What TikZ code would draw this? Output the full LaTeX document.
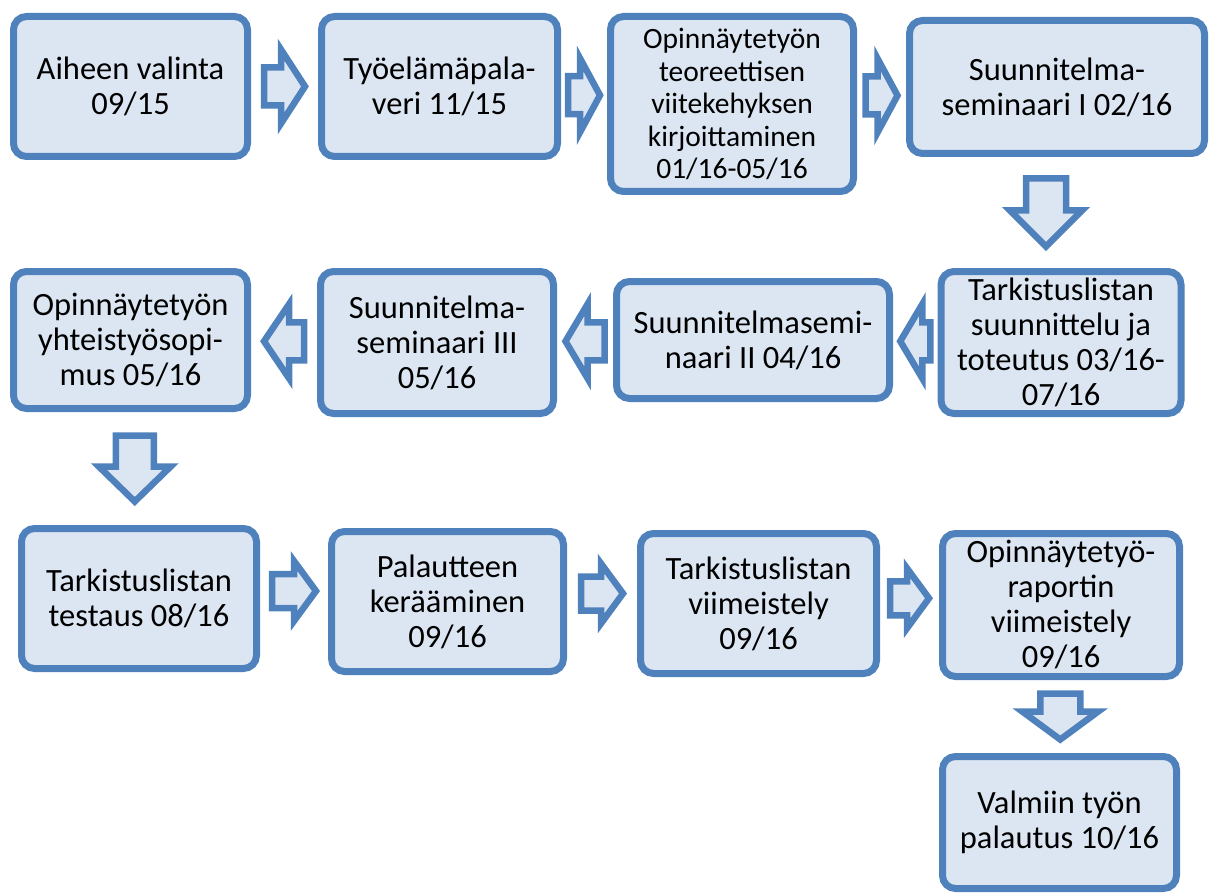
\documentclass[tikz,border=0pt]{standalone}
\usepackage{fontspec}
\setmainfont{Carlito}
\usepackage{tikz}
\usetikzlibrary{calc}
\definecolor{reuna}{HTML}{4F81BD}
\definecolor{tayte}{HTML}{DCE6F2}

\tikzset{
  vaihe/.style={draw=reuna,fill=tayte,line width=7pt,rounded corners=13pt,inner sep=0pt,align=center,font=\fontsize{32.5}{35}\selectfont},
  nuoli/.style={draw=reuna,fill=tayte,line width=6.5pt,line join=miter},
  % pituus, karjen pituus, karjen puolileveys, varren puolileveys
  pics/siirto/.style n args={4}{code={
    \draw[nuoli] ({-#1/2},-#4) -- ({#1/2-#2},-#4) -- ({#1/2-#2},-#3) -- ({#1/2},0)
      -- ({#1/2-#2},#3) -- ({#1/2-#2},#4) -- ({-#1/2},#4) -- cycle;}}
}

\begin{document}
\begin{tikzpicture}[x=1pt,y=-1pt]
\useasboundingbox (0,0) rectangle (1214,893);

% rivi 1
\node[vaihe,minimum width=234pt,minimum height=140pt] (b1) at (130.5,86.5) {Aiheen valinta\\09/15};
\node[vaihe,minimum width=236pt,minimum height=140pt] (b2) at (439.5,86.5) {Työelämäpala-\\veri 11/15};
\node[vaihe,minimum width=243pt,minimum height=175pt,font=\fontsize{29.5}{32.5}\selectfont] (b3) at (732,104) {Opinnäytetyön\\teoreettisen\\viitekehyksen\\kirjoittaminen\\01/16-05/16};
\node[vaihe,minimum width=295pt,minimum height=133pt] (b4) at (1057,87) {Suunnitelma-\\seminaari I 02/16};

% rivi 2
\node[vaihe,minimum width=240pt,minimum height=142pt] (b5) at (1061,342.5) {Tarkistuslistan\\suunnittelu ja\\toteutus 03/16-\\07/16};
\node[vaihe,minimum width=273pt,minimum height=117pt] (b6) at (753,340) {Suunnitelmasemi-\\naari II 04/16};
\node[vaihe,minimum width=233pt,minimum height=142pt] (b7) at (437,342.5) {Suunnitelma-\\seminaari III\\05/16};
\node[vaihe,minimum width=234pt,minimum height=137pt] (b8) at (130.5,340) {Opinnäytetyön\\yhteistyösopi-\\mus 05/16};

% rivi 3
\node[vaihe,minimum width=235pt,minimum height=140pt] (b9) at (139,598.5) {Tarkistuslistan\\testaus 08/16};
\node[vaihe,minimum width=232pt,minimum height=140pt] (b10) at (447.5,601.5) {Palautteen\\kerääminen\\09/16};
\node[vaihe,minimum width=236pt,minimum height=140pt] (b11) at (758.5,603.5) {Tarkistuslistan\\viimeistely\\09/16};
\node[vaihe,minimum width=237pt,minimum height=143pt] (b12) at (1061,605) {Opinnäytetyö-\\raportin\\viimeistely\\09/16};
\node[vaihe,minimum width=234pt,minimum height=132pt] (b13) at (1059.5,822.5) {Valmiin työn\\palautus 10/16};

% nuolet
\pic at ($(b1.east)!.5!(b2.west)$) {siirto={41}{24}{37}{19}};
\pic at ($(b2.east)!.5!(b3.west)$) {siirto={32}{20}{37}{19}};
\pic at ($(b3.east)!.5!(b4.west)$) {siirto={32}{20}{37}{19}};
\pic[rotate=-90] at ($(b4.south)!.5!(b5.north)+(-13,0)$) {siirto={68}{36}{36}{20}};
\pic[rotate=180] at ($(b5.west)!.5!(b6.east)$) {siirto={30}{22}{37}{19}};
\pic[rotate=180] at ($(b6.west)!.5!(b7.east)$) {siirto={39}{22}{37}{19}};
\pic[rotate=180] at ($(b7.west)!.5!(b8.east)$) {siirto={40}{25}{37}{19}};
\pic[rotate=-90] at ($(b8.south)!.5!(b9.north)$) {siirto={66}{35}{36}{19}};
\pic at ($(b9.east)!.5!(b10.west)+(0,-9)$) {siirto={44}{22}{30}{17}};
\pic at ($(b10.east)!.5!(b11.west)+(0,-9)$) {siirto={42}{22}{30}{17}};
\pic at ($(b11.east)!.5!(b12.west)+(0,-6)$) {siirto={39}{22}{30}{17}};
\pic[rotate=-90] at ($(b12.south)!.5!(b13.north)$) {siirto={46}{28}{38}{20}};
\end{tikzpicture}
\end{document}
